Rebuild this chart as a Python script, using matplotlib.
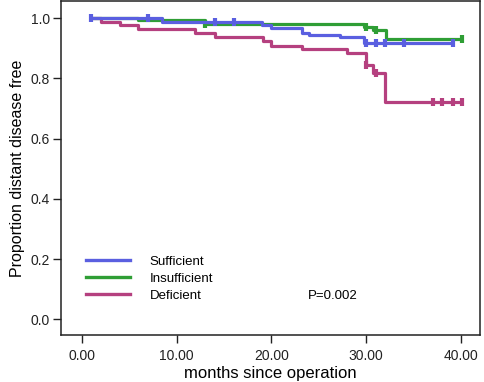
import matplotlib
matplotlib.use("Agg")
import matplotlib.pyplot as plt
from matplotlib.lines import Line2D

plt.rcParams['font.family'] = ['Liberation Sans', 'DejaVu Sans']

# Kaplan-Meier step data (months, proportion)
suff_times = [1.0, 8.5, 19.0, 20.0, 23.2, 24.0, 27.2, 29.8]
suff_surv = [1.0, 0.988, 0.976, 0.969, 0.950, 0.944, 0.937, 0.917]
suff_end = 39.1
suff_censor = [1.0, 7.0, 14.0, 16.0, 30.0, 31.0, 32.0, 34.0, 39.1]

insuff_times = [1.0, 5.9, 13.0, 29.8, 30.7, 32.1]
insuff_surv = [1.0, 0.994, 0.982, 0.972, 0.961, 0.930]
insuff_end = 40.1
insuff_censor = [13.0, 30.0, 31.0, 40.1]

def_times = [1.0, 2.0, 4.0, 5.9, 11.9, 14.0, 19.1, 20.0, 23.2, 28.0, 30.0, 30.7, 32.0]
def_surv = [1.0, 0.988, 0.976, 0.964, 0.950, 0.938, 0.925, 0.908, 0.898, 0.884,
            0.845, 0.817, 0.723]
def_end = 40.1
def_censor = [30.0, 31.0, 37.0, 38.0, 39.1, 40.1]

labels = ['Sufficient', 'Insufficient', 'Deficient']
colors = ['#5a5fe0', '#2f9e35', '#b5407f']
p_text = 'P=0.002'


def surv_at(t, times, surv):
    val = surv[0]
    for ti, si in zip(times, surv):
        if ti <= t:
            val = si
    return val


fig = plt.figure(figsize=(4.84, 3.82), dpi=100)
ax = fig.add_axes([61 / 484, 47 / 382, 419 / 484, 334 / 382])

groups = [
    (insuff_times, insuff_surv, insuff_end, insuff_censor, colors[1]),
    (def_times, def_surv, def_end, def_censor, colors[2]),
    (suff_times, suff_surv, suff_end, suff_censor, colors[0]),
]
for times, surv, end, censor, col in groups:
    ax.step(times + [end], surv + [surv[-1]], where='post', color=col,
            lw=2.3, solid_capstyle='butt')
    ax.plot(censor, [surv_at(c, times, surv) for c in censor], ls='none',
            marker='|', ms=6, mew=3, color=col)

ax.set_xlim(-2.2, 42.0)
ax.set_ylim(-0.052, 1.057)
ax.set_xticks([0, 10, 20, 30, 40])
ax.set_xticklabels(['0.00', '10.00', '20.00', '30.00', '40.00'])
ax.set_yticks([0, 0.2, 0.4, 0.6, 0.8, 1.0])
ax.set_yticklabels(['0.0', '0.2', '0.4', '0.6', '0.8', '1.0'])
ax.tick_params(direction='out', length=6, width=1, labelsize=10,
               colors='#222222')
ax.tick_params(axis='x', pad=4)
ax.tick_params(axis='y', pad=2)
for s in ax.spines.values():
    s.set_linewidth(1.1)
    s.set_color('#222222')

ax.set_xlabel('months since operation', fontsize=12, labelpad=2)
ax.set_ylabel('Proportion distant disease free', fontsize=11.5, labelpad=4)

handles = [Line2D([], [], color=c, lw=2.4) for c in colors]
ax.legend(handles, labels, loc='lower left', bbox_to_anchor=(0.06, 0.1),
          frameon=False, fontsize=9.5, handlelength=3.3, handletextpad=1.5,
          labelspacing=0.35, borderpad=0, borderaxespad=0)

ax.text(23.8, 0.077, p_text, fontsize=9.5, va='center', ha='left')

fig.savefig('out.png', dpi=100)
